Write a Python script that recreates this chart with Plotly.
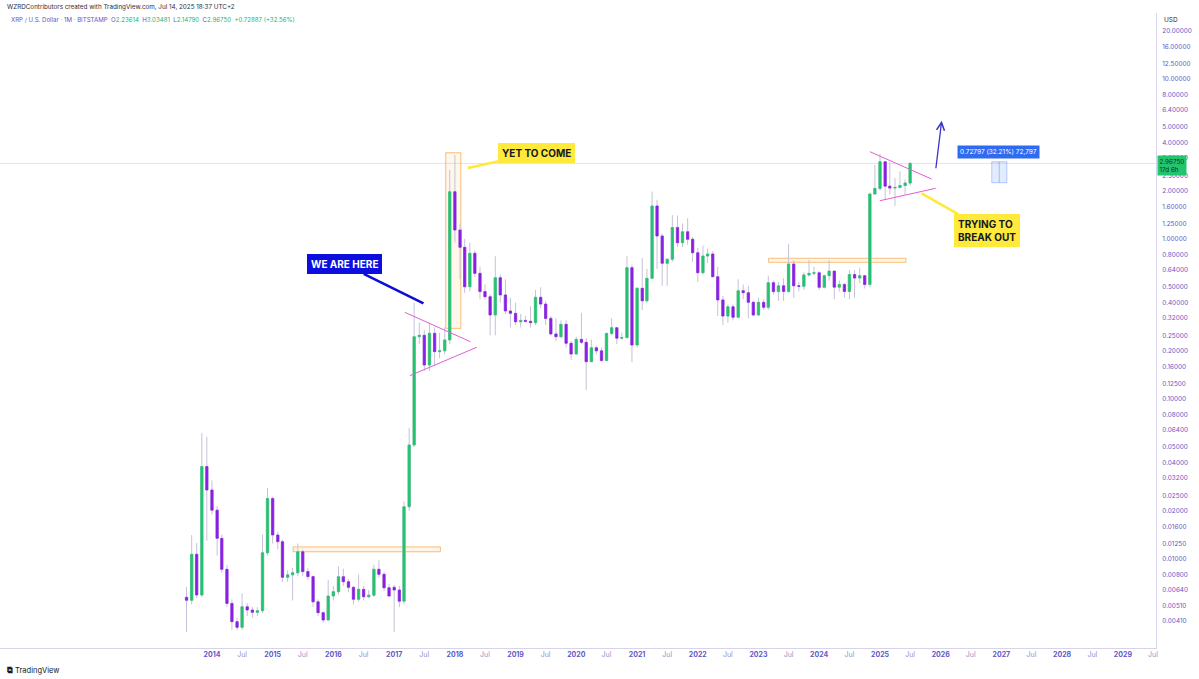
import math
import pandas as pd
import plotly.graph_objects as go

# ---------------- data (monthly XRP/USD, Aug 2013 .. Jul 2025) ----------------
months = pd.date_range("2013-08-01", periods=144, freq="MS")

opens = [
    0.00576, 0.00552, 0.0107, 0.00596, 0.0378,
    0.0270, 0.0202, 0.01346, 0.00862, 0.00528, 0.00406, 0.00374, 0.00503, 0.00480, 0.00464, 0.00475, 0.01094,
    0.0239, 0.01413, 0.01283, 0.00768, 0.00796, 0.00820, 0.0111, 0.00834, 0.00776, 0.0054, 0.00462, 0.00416,
    0.00587, 0.00625, 0.00775, 0.00721, 0.00665, 0.00560, 0.00646, 0.00581, 0.00594, 0.00863, 0.00802, 0.00661,
    0.00665, 0.00640, 0.00545, 0.0212, 0.0516, 0.245, 0.250, 0.163, 0.2575, 0.1977, 0.200, 0.234,
    1.975, 1.138, 0.887, 0.503, 0.814, 0.610, 0.469, 0.436, 0.335, 0.573, 0.447, 0.355,
    0.343, 0.304, 0.310, 0.306, 0.300, 0.432, 0.392, 0.319, 0.255, 0.245, 0.293, 0.223,
    0.191, 0.236, 0.226, 0.171, 0.209, 0.200, 0.174, 0.257, 0.279, 0.240, 0.242, 0.662,
    0.2175, 0.492, 0.411, 0.568, 1.608, 1.044, 0.705, 0.747, 1.180, 0.948, 1.110, 0.996,
    0.821, 0.616, 0.783, 0.806, 0.581, 0.416, 0.330, 0.377, 0.324, 0.475, 0.462, 0.402,
    0.335, 0.402, 0.374, 0.533, 0.469, 0.510, 0.470, 0.698, 0.510, 0.506, 0.596, 0.610,
    0.615, 0.499, 0.590, 0.630, 0.500, 0.520, 0.470, 0.600, 0.570, 0.590, 0.520, 1.910,
    2.070, 3.040, 2.140, 2.080, 2.100, 2.160, 2.23614,
]
highs = [
    0.0067, 0.0141, 0.0126, 0.0613, 0.058,
    0.0310, 0.0215, 0.0142, 0.0092, 0.0056, 0.0043, 0.0061, 0.0053, 0.0050, 0.0050, 0.0142, 0.0277,
    0.0245, 0.0148, 0.0132, 0.0085, 0.0088, 0.0125, 0.0115, 0.0088, 0.0079, 0.0056, 0.0047, 0.0074,
    0.0068, 0.0090, 0.0087, 0.0075, 0.0068, 0.0080, 0.0068, 0.0064, 0.0092, 0.0098, 0.0083, 0.0070,
    0.0069, 0.0068, 0.0230, 0.066, 0.40, 0.30, 0.27, 0.30, 0.28, 0.26, 0.28, 2.70,
    3.35, 1.25, 1.00, 0.95, 0.85, 0.67, 0.52, 0.45, 0.78, 0.60, 0.56, 0.43,
    0.40, 0.34, 0.33, 0.38, 0.48, 0.50, 0.41, 0.33, 0.32, 0.31, 0.31, 0.23,
    0.245, 0.345, 0.24, 0.235, 0.215, 0.21, 0.26, 0.32, 0.28, 0.26, 0.78, 0.69,
    0.50, 0.76, 0.65, 1.98, 1.76, 1.08, 0.76, 1.41, 1.40, 1.25, 1.35, 1.03,
    0.88, 0.91, 0.87, 0.84, 0.67, 0.44, 0.39, 0.39, 0.56, 0.52, 0.51, 0.41,
    0.43, 0.42, 0.59, 0.55, 0.54, 0.57, 0.93, 0.74, 0.54, 0.62, 0.74, 0.67,
    0.63, 0.60, 0.74, 0.63, 0.55, 0.53, 0.64, 0.64, 0.66, 0.59, 1.95, 2.90,
    3.40, 3.05, 3.00, 2.40, 2.65, 2.35, 3.03481,
]
lows = [
    0.0035, 0.0052, 0.0057, 0.0058, 0.0130,
    0.0190, 0.0105, 0.0082, 0.0050, 0.0036, 0.0036, 0.0036, 0.0044, 0.0043, 0.0044, 0.0046, 0.0105,
    0.0125, 0.0115, 0.0072, 0.0072, 0.0055, 0.0078, 0.0078, 0.0074, 0.0050, 0.0044, 0.0040, 0.0041,
    0.0055, 0.0060, 0.0068, 0.0062, 0.0052, 0.0054, 0.0055, 0.0057, 0.0058, 0.0076, 0.0063, 0.0058,
    0.0035, 0.0050, 0.0052, 0.0200, 0.050, 0.22, 0.15, 0.15, 0.16, 0.18, 0.19, 0.22,
    0.95, 0.56, 0.46, 0.47, 0.58, 0.42, 0.42, 0.25, 0.25, 0.40, 0.34, 0.28,
    0.29, 0.28, 0.30, 0.28, 0.29, 0.37, 0.29, 0.25, 0.23, 0.24, 0.21, 0.175,
    0.19, 0.22, 0.114, 0.17, 0.19, 0.17, 0.172, 0.25, 0.22, 0.235, 0.24, 0.17,
    0.21, 0.36, 0.40, 0.56, 0.65, 0.51, 0.51, 0.72, 0.89, 0.89, 0.92, 0.72,
    0.54, 0.60, 0.71, 0.58, 0.33, 0.29, 0.30, 0.31, 0.32, 0.42, 0.32, 0.33,
    0.33, 0.36, 0.36, 0.45, 0.41, 0.41, 0.46, 0.43, 0.47, 0.48, 0.58, 0.59,
    0.48, 0.49, 0.55, 0.42, 0.47, 0.43, 0.42, 0.43, 0.53, 0.49, 0.50, 1.90,
    2.00, 1.77, 1.90, 1.61, 2.07, 1.90, 2.14790,
]
closes = [
    0.00552, 0.0107, 0.00596, 0.0378, 0.0270,
    0.0202, 0.01346, 0.00862, 0.00528, 0.00406, 0.00374, 0.00503, 0.00480, 0.00464, 0.00475, 0.01094, 0.0239,
    0.01413, 0.01283, 0.00768, 0.00796, 0.00820, 0.0111, 0.00834, 0.00776, 0.0054, 0.00462, 0.00416, 0.00587,
    0.00625, 0.00775, 0.00721, 0.00665, 0.00560, 0.00646, 0.00581, 0.00594, 0.00863, 0.00802, 0.00661, 0.00587,
    0.00640, 0.00545, 0.0212, 0.0516, 0.245, 0.250, 0.163, 0.2575, 0.1977, 0.200, 0.234, 1.975,
    1.138, 0.887, 0.503, 0.814, 0.610, 0.469, 0.436, 0.335, 0.573, 0.447, 0.355, 0.343,
    0.304, 0.310, 0.306, 0.300, 0.432, 0.392, 0.319, 0.255, 0.245, 0.293, 0.223, 0.191,
    0.236, 0.226, 0.171, 0.209, 0.200, 0.174, 0.257, 0.279, 0.240, 0.242, 0.662, 0.2175,
    0.492, 0.411, 0.568, 1.608, 1.044, 0.705, 0.747, 1.180, 0.948, 1.110, 0.996, 0.821,
    0.616, 0.783, 0.806, 0.581, 0.416, 0.330, 0.377, 0.324, 0.475, 0.462, 0.402, 0.335,
    0.402, 0.374, 0.533, 0.469, 0.510, 0.470, 0.698, 0.510, 0.506, 0.596, 0.610, 0.615,
    0.499, 0.590, 0.630, 0.500, 0.520, 0.470, 0.600, 0.570, 0.590, 0.520, 1.910, 2.070,
    3.040, 2.140, 2.080, 2.100, 2.160, 2.23863, 2.96750,
]

y_tick_vals = [20, 16, 12.5, 10, 8, 6.4, 5, 4, 3.2, 2.5, 2, 1.6, 1.25, 1, 0.8, 0.64, 0.5, 0.4,
               0.32, 0.25, 0.2, 0.16, 0.125, 0.1, 0.08, 0.064, 0.05, 0.04, 0.032, 0.025, 0.02,
               0.016, 0.0125, 0.01, 0.008, 0.0064, 0.0051, 0.0041]
x_tick_years = list(range(2014, 2030))

# ---------------- styling ----------------
GREEN = "#22c46e"
PURPLE = "#8b1ee6"
WICK = "#c6c1d8"
AXIS_TXT = "#5f57c6"
AXIS_TXT_LIGHT = "#9892cf"
FONT = "Inter, Roboto, 'DejaVu Sans', sans-serif"

fig = go.Figure()

# wicks
fig.add_trace(go.Candlestick(
    x=months, open=opens, high=highs, low=lows, close=closes,
    increasing=dict(line=dict(color=WICK, width=1), fillcolor="rgba(0,0,0,0)"),
    decreasing=dict(line=dict(color=WICK, width=1), fillcolor="rgba(0,0,0,0)"),
    hoverinfo="skip", showlegend=False,
))
# bodies
body_hi = [max(o, c) for o, c in zip(opens, closes)]
body_lo = [min(o, c) for o, c in zip(opens, closes)]
fig.add_trace(go.Candlestick(
    x=months, open=opens, high=body_hi, low=body_lo, close=closes,
    increasing=dict(line=dict(color=GREEN, width=0.6), fillcolor=GREEN),
    decreasing=dict(line=dict(color=PURPLE, width=0.6), fillcolor=PURPLE),
    hoverinfo="skip", showlegend=False,
))

# ---------------- axes ----------------
x_tickvals, x_ticktext = [], []
for yv in x_tick_years:
    x_tickvals.append(f"{yv}-01-01")
    x_ticktext.append(f"<b>{yv}</b>")
    x_tickvals.append(f"{yv}-07-01")
    x_ticktext.append(f"<span style='color:{AXIS_TXT_LIGHT}'>Jul</span>")

fig.update_xaxes(
    type="date", range=["2010-07-06", "2029-07-19"],
    tickmode="array", tickvals=x_tickvals, ticktext=x_ticktext,
    tickfont=dict(size=7, color=AXIS_TXT, family=FONT),
    showgrid=False, zeroline=False, showline=True, linecolor="#d6d3ea", linewidth=1,
    ticks="", rangeslider=dict(visible=False), fixedrange=True,
)
fig.update_yaxes(
    type="log", side="right", range=[-2.55625, 1.4125],
    tickmode="array", tickvals=y_tick_vals, ticktext=[f"{v:.5f}" for v in y_tick_vals],
    tickfont=dict(size=6.4, color=AXIS_TXT, family=FONT),
    showgrid=False, zeroline=False, showline=True, linecolor="#d6d3ea", linewidth=1,
    ticks="outside", ticklen=4, tickcolor="rgba(0,0,0,0)", fixedrange=True,
)

# ---------------- drawings ----------------
ORANGE_FILL = "rgba(255,170,60,0.13)"
ORANGE_LINE = "rgba(245,170,80,0.75)"
PINK = "#e05fd2"
shapes = [
    # current price line
    dict(type="line", xref="paper", x0=0, x1=1, yref="y", y0=closes[-1], y1=closes[-1],
         line=dict(color="#e4e3ec", width=1), layer="below"),
    # orange zones
    dict(type="rect", x0="2015-05-04", x1="2017-10-06", y0=0.0111, y1=0.0119,
         fillcolor=ORANGE_FILL, line=dict(color=ORANGE_LINE, width=1), layer="below"),
    dict(type="rect", x0="2017-11-07", x1="2018-02-06", y0=0.2765, y1=3.46,
         fillcolor="rgba(255,190,90,0.12)", line=dict(color=ORANGE_LINE, width=1), layer="below"),
    dict(type="rect", x0="2023-03-03", x1="2025-06-06", y0=0.715, y1=0.758,
         fillcolor=ORANGE_FILL, line=dict(color=ORANGE_LINE, width=1), layer="below"),
    # triangles
    dict(type="line", x0="2017-03-06", y0=0.348, x1="2018-04-05", y1=0.228, line=dict(color=PINK, width=1)),
    dict(type="line", x0="2017-04-06", y0=0.140, x1="2018-05-12", y1=0.2105, line=dict(color=PINK, width=1)),
    dict(type="line", x0="2024-11-01", y0=3.513, x1="2025-11-07", y1=2.371, line=dict(color=PINK, width=1)),
    dict(type="line", x0="2024-12-31", y0=1.735, x1="2025-12-02", y1=2.074, line=dict(color=PINK, width=1)),
    # measure box
    dict(type="rect", x0="2026-11-04", x1="2027-02-03", y0=2.248, y1=3.04,
         fillcolor="rgba(41,98,255,0.13)", line=dict(color="rgba(41,98,255,0.3)", width=1)),
    dict(type="line", x0="2026-12-19", x1="2026-12-19", y0=2.248, y1=3.04,
         line=dict(color="rgba(41,98,255,0.35)", width=1)),
]

L = math.log10
chg = closes[-1] - closes[-2]
chg_pct = chg / closes[-2] * 100
annotations = [
    # header
    dict(xref="paper", yref="paper", x=5 / 1156, y=(648 - 7) / 635, xanchor="left", yanchor="middle",
         text="WZRDContributors created with TradingView.com, Jul 14, 2025 18:37 UTC+2",
         showarrow=False, font=dict(size=6.3, color="#2a2e39", family=FONT)),
    dict(xref="paper", yref="paper", x=9 / 1156, y=(648 - 20) / 635, xanchor="left", yanchor="middle",
         text=(f"<span style='color:{AXIS_TXT}'>XRP / U.S. Dollar · 1M · BITSTAMP</span>  "
               f"<span style='color:{AXIS_TXT}'>O</span><span style='color:#22b573'>{opens[-1]:.5f}</span>  "
               f"<span style='color:{AXIS_TXT}'>H</span><span style='color:#22b573'>{highs[-1]:.5f}</span>  "
               f"<span style='color:{AXIS_TXT}'>L</span><span style='color:#22b573'>{lows[-1]:.5f}</span>  "
               f"<span style='color:{AXIS_TXT}'>C</span><span style='color:#22b573'>{closes[-1]:.5f}</span>  "
               f"<span style='color:#22b573'>+{chg:.5f} (+{chg_pct:.2f}%)</span>"),
         showarrow=False, font=dict(size=6.1, family=FONT)),
    dict(xref="paper", yref="paper", x=1162 / 1156, y=(648 - 20) / 635, xanchor="left", yanchor="middle",
         text="USD", showarrow=False, font=dict(size=6.5, color="#2a2e39", family=FONT)),
    dict(xref="paper", yref="paper", x=5 / 1156, y=(648 - 670) / 635, xanchor="left", yanchor="middle",
         text="<b>⧉</b> TradingView", showarrow=False, font=dict(size=7.5, color="#131722", family=FONT)),
    # last price label
    dict(xref="paper", yref="y", x=1157 / 1156, y=L(closes[-1]) - 0.012, xanchor="left", yanchor="middle",
         text=f"{closes[-1]:.5f}<br>17d 6h", showarrow=False, align="left",
         bgcolor=GREEN, borderpad=1.5, font=dict(size=6.3, color="#10331f", family=FONT)),
    # callouts
    dict(x="2018-03-19", y=0.44375, text="<b>YET TO COME</b>", showarrow=True, ax=69, ay=-15,
         arrowhead=0, arrowwidth=2.5, arrowcolor="#ffe93b", bgcolor="#ffe93b", bordercolor="#ffe93b",
         borderpad=3, font=dict(size=10, color="#131722", family=FONT)),
    dict(x="2017-06-26", y=-0.4019, text="<b>WE ARE HERE</b>", showarrow=True, ax=-79, ay=-39,
         arrowhead=0, arrowwidth=2.5, arrowcolor="#0d0dd6", bgcolor="#0d0de0", bordercolor="#0d0de0",
         borderpad=3, font=dict(size=10, color="#ffffff", family=FONT)),
    dict(x="2025-09-08", y=0.2856, text="<b>TRYING TO<br>BREAK OUT</b>", showarrow=True, ax=65, ay=37,
         arrowhead=0, arrowwidth=2.5, arrowcolor="#ffe93b", bgcolor="#ffe93b", bordercolor="#ffe93b",
         borderpad=3, align="left", font=dict(size=10, color="#131722", family=FONT)),
    # up arrow
    dict(x="2026-01-07", y=0.739, text="", showarrow=True, ax=-6, ay=49,
         arrowhead=5, arrowsize=1.2, arrowwidth=1.3, arrowcolor="#3d33c4"),
    # measure label
    dict(x="2026-12-13", y=0.54375, text="0.72797 (32.21%) 72,797", showarrow=False,
         bgcolor="#2f6bf0", borderpad=2, font=dict(size=6.5, color="#ffffff", family=FONT)),
]

fig.update_layout(
    width=1199, height=679,
    margin=dict(l=0, r=43, t=13, b=31),
    paper_bgcolor="#ffffff", plot_bgcolor="#ffffff",
    shapes=shapes, annotations=annotations,
    showlegend=False, hovermode=False,
)

fig.write_html("out.html", config={"displayModeBar": False},
               post_script="document.body.style.margin='0';document.body.style.overflow='hidden';")
